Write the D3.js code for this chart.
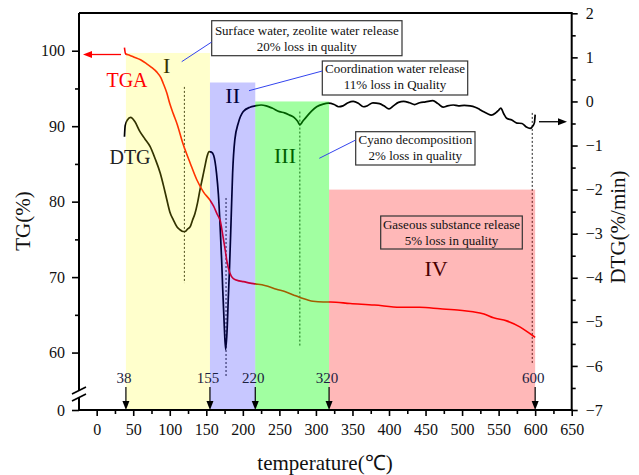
<!DOCTYPE html>
<html><head><meta charset="utf-8">
<script src="https://cdn.jsdelivr.net/npm/d3@7"></script>
<style>
body{margin:0;background:#fff}
svg{display:block}
text{font-family:"Liberation Serif","Times New Roman",serif}
</style>
</head><body>
<svg id="c" width="639" height="475"></svg>
<script>
// ---------------- DATA ----------------
const tgaTemp  = [38, 39.5, 45, 50, 60, 68, 75, 82, 88, 91, 96, 100, 105, 110, 118, 128, 137, 146, 155, 160, 165, 169, 173, 176, 178, 182, 187, 195, 201, 210, 217, 230, 246, 260, 270, 278, 288, 296, 310, 320, 347, 380, 415, 442, 470, 497, 515, 530, 543, 561, 579, 590, 600];
const tgaValue = [100.4, 99.6, 99.4, 99.2, 98.8, 98.3, 97.8, 97.2, 96.4, 95.7, 94.4, 93.0, 91.6, 90.3, 87.7, 85.1, 82.9, 81.3, 80.2, 79.4, 78.3, 77.5, 75.3, 73.5, 72.2, 70.6, 69.8, 69.5, 69.4, 69.2, 69.1, 68.9, 68.4, 68.0, 67.6, 67.3, 67.0, 66.8, 66.7, 66.7, 66.5, 66.3, 66.0, 66.0, 65.8, 65.6, 65.4, 65.1, 64.6, 64.2, 63.4, 62.7, 62.0];

const dtgTemp  = [38, 39, 42, 46.5, 52, 59, 66, 73, 80, 87, 92, 96, 100, 105, 110, 114, 118, 121, 124, 128, 131, 134.5, 138, 141.4, 145, 148, 151, 154, 157, 160, 164, 166.5, 168.7, 171, 172.5, 174.6, 176.5, 178.7, 180, 181.5, 183.8, 186, 189, 193.8, 200.6, 209.8, 217, 225, 232, 240, 250, 257, 264, 270, 275, 278, 282, 287, 294, 301, 310, 317, 325, 331, 337, 344, 351, 358, 365, 370, 378, 387, 393, 400, 406, 413, 420, 428, 435, 442, 450, 460, 467, 474, 480, 488, 495, 503, 511, 518, 524, 529, 535, 540, 546, 550, 553, 557, 561, 568, 575, 582, 588, 593, 597, 599, 600];
const dtgValue = [-0.80, -0.55, -0.42, -0.36, -0.45, -0.68, -0.85, -1.02, -1.30, -1.63, -1.95, -2.23, -2.50, -2.69, -2.85, -2.91, -2.95, -2.95, -2.90, -2.84, -2.70, -2.54, -2.30, -2.00, -1.72, -1.48, -1.25, -1.14, -1.15, -1.22, -1.63, -2.10, -2.76, -3.60, -4.27, -5.10, -5.63, -5.10, -4.50, -3.90, -2.76, -1.63, -0.87, -0.49, -0.23, -0.13, -0.10, -0.08, -0.10, -0.15, -0.23, -0.26, -0.31, -0.36, -0.45, -0.53, -0.45, -0.35, -0.22, -0.12, -0.06, -0.04, -0.07, -0.12, -0.10, -0.03, 0.00, -0.04, -0.12, -0.10, -0.03, -0.05, -0.10, -0.17, -0.10, -0.02, 0.00, -0.03, -0.07, -0.03, -0.01, 0.02, -0.05, -0.13, -0.10, -0.08, -0.10, -0.09, -0.10, -0.13, -0.18, -0.23, -0.28, -0.31, -0.26, -0.20, -0.15, -0.28, -0.38, -0.42, -0.49, -0.50, -0.58, -0.61, -0.55, -0.48, -0.30];

const stageBounds = [40, 155, 217, 318, 600];
const stageLabels = ["38", "155", "220", "320", "600"];
const stageNames  = ["I", "II", "III", "IV"];
const stageTops   = [1.1, 0.43, 0.0, -2.0];          // DTG units
const peakTemps   = [120, 177, 278, 596];
const peakTops    = [0.33, -2.19, -0.23, -0.26];     // DTG units
const peakBottoms = [-4.12, -6.24, -5.57, -5.97];

const xTicks      = d3.range(0, 651, 50);
const xMinorTicks = d3.range(25, 651, 50);
const tgTicks     = [0, 60, 70, 80, 90, 100];
const tgMinor     = [65, 75, 85, 95];
const dtgTicks    = d3.range(-7, 3, 1);
const dtgMinor    = d3.range(-6.5, 2, 1);

const noteLines = [
  ["Surface water, zeolite water release", "20% loss in quality"],
  ["Coordination water release", "11% loss in Quality"],
  ["Cyano decomposition", "2% loss in quality"],
  ["Gaseous substance release", "5% loss in quality"]
];

// ---------------- LAYOUT ----------------
const L = 79, R = 571.7, T = 13, B = 410;
const svg = d3.select("#c");
const x = d3.scaleLinear().domain([-24.2, 650]).range([L, R]);
const yTG = d3.scaleLinear().domain([0, 55, 105]).range([B, 390.3, T]);
const yD = d3.scaleLinear().domain([-7, 2]).range([B, 13.3]);

const bandColors = ["#FFFF00", "#0000FF", "#00FF00", "#FF0000"];
const bandOpac = [0.2, 0.22, 0.37, 0.28];

// guide lines (under bands)
const gl = svg.append("g");
peakTemps.forEach((t, i) => {
  gl.append("line").attr("x1", x(t)).attr("x2", x(t))
    .attr("y1", yD(peakTops[i])).attr("y2", yD(peakBottoms[i]))
    .attr("stroke", "#222").attr("stroke-width", 1).attr("stroke-dasharray", "2,2");
});

// curves
const tga = tgaTemp.map((t, i) => [t, tgaValue[i]]);
const dtg = dtgTemp.map((t, i) => [t, dtgValue[i]]);
svg.append("path").datum(dtg)
  .attr("d", d3.line().x(d => x(d[0])).y(d => yD(d[1])).curve(d3.curveMonotoneX))
  .attr("fill", "none").attr("stroke", "#000").attr("stroke-width", 1.7);
svg.append("path").datum(tga)
  .attr("d", d3.line().x(d => x(d[0])).y(d => yTG(d[1])).curve(d3.curveMonotoneX))
  .attr("fill", "none").attr("stroke", "#FF0000").attr("stroke-width", 1.6);

// Roman numerals (under bands)
const numPos = [[166.7, 72.5], [232.7, 103], [285, 163], [436, 276]];
stageNames.forEach((n, i) => {
  svg.append("text").attr("x", numPos[i][0]).attr("y", numPos[i][1])
    .attr("text-anchor", "middle").attr("font-size", 22).attr("fill", "#000").text(n);
});

// bands on top, translucent
stageNames.forEach((n, i) => {
  svg.append("rect")
    .attr("x", x(stageBounds[i])).attr("width", x(stageBounds[i + 1]) - x(stageBounds[i]))
    .attr("y", yD(stageTops[i])).attr("height", B - yD(stageTops[i]))
    .attr("fill", bandColors[i]).attr("fill-opacity", bandOpac[i]);
});

// axes
const axStyle = g => {
  g.selectAll("path.domain").remove();
  g.selectAll("line").attr("stroke", "#000").attr("stroke-width", 1.6);
  g.selectAll("text").attr("font-size", 16).attr("fill", "#111")
    .attr("font-family", "'Liberation Serif','Times New Roman',serif");
};
svg.append("g").attr("transform", `translate(0,${B})`)
  .call(d3.axisBottom(x).tickValues(xTicks).tickSize(6).tickPadding(8).tickFormat(d3.format("d"))).call(axStyle);
svg.append("g").attr("transform", `translate(0,${B})`)
  .call(d3.axisBottom(x).tickValues(xMinorTicks).tickSize(4).tickFormat("")).call(axStyle);
svg.append("g").attr("transform", `translate(${L},0)`)
  .call(d3.axisLeft(yTG).tickValues(tgTicks).tickSize(7).tickPadding(7).tickFormat(d3.format("d"))).call(axStyle);
svg.append("g").attr("transform", `translate(${L},0)`)
  .call(d3.axisLeft(yTG).tickValues(tgMinor).tickSize(4).tickFormat("")).call(axStyle);
svg.append("g").attr("transform", `translate(${R},0)`)
  .call(d3.axisRight(yD).tickValues(dtgTicks).tickSize(6).tickPadding(8).tickFormat(d3.format("d"))).call(axStyle);
svg.append("g").attr("transform", `translate(${R},0)`)
  .call(d3.axisRight(yD).tickValues(dtgMinor).tickSize(4).tickFormat("")).call(axStyle);

// frame lines
const fr = svg.append("g").attr("stroke", "#000").attr("stroke-width", 2).attr("fill", "none");
fr.append("line").attr("x1", L - 1).attr("x2", R + 1).attr("y1", B).attr("y2", B);
fr.append("line").attr("x1", L).attr("x2", R + 1).attr("y1", T).attr("y2", T);
fr.append("line").attr("x1", R).attr("x2", R).attr("y1", T).attr("y2", B);
fr.append("line").attr("x1", L).attr("x2", L).attr("y1", T).attr("y2", 390);
fr.append("line").attr("x1", L).attr("x2", L).attr("y1", 397).attr("y2", B);
// break marks
const bk = svg.append("g").attr("stroke", "#000").attr("stroke-width", 1.6);
bk.append("line").attr("x1", 72).attr("y1", 394).attr("x2", 86).attr("y2", 387);
bk.append("line").attr("x1", 72).attr("y1", 401).attr("x2", 86).attr("y2", 394);

// stage boundary arrows
stageBounds.forEach((t, i) => {
  const px = x(t);
  svg.append("line").attr("x1", px).attr("x2", px).attr("y1", 387).attr("y2", 402)
    .attr("stroke", "#000").attr("stroke-width", 1.2);
  svg.append("path").attr("d", `M${px - 3.5},401 L${px + 3.5},401 L${px},${B} Z`).attr("fill", "#000");
  svg.append("text").attr("x", px - 2).attr("y", 383).attr("text-anchor", "middle")
    .attr("font-size", 15).attr("fill", "#1c2140").text(stageLabels[i]);
});

// annotation boxes
const boxes = [
  {x0: 211.7, x1: 402, y0: 20.7, y1: 55.7, b: [35, 51]},
  {x0: 322.3, x1: 467.7, y0: 61, y1: 95, b: [73, 89]},
  {x0: 355.7, x1: 475, y0: 131.7, y1: 165, b: [144, 160]},
  {x0: 380.7, x1: 522.3, y0: 216, y1: 249, b: [228.5, 244.5]}
];
boxes.forEach((bx, i) => {
  svg.append("rect").attr("x", bx.x0).attr("y", bx.y0).attr("width", bx.x1 - bx.x0).attr("height", bx.y1 - bx.y0)
    .attr("fill", "none").attr("stroke", "#333").attr("stroke-width", 1.2);
  noteLines[i].forEach((ln, j) => {
    svg.append("text").attr("x", (bx.x0 + bx.x1) / 2).attr("y", bx.b[j]).attr("text-anchor", "middle")
      .attr("font-size", 13).attr("fill", "#111").text(ln);
  });
});
const conns = [[211.7, 42, 181.7, 61.7], [322.3, 71, 249, 90.7], [355.7, 140, 319.3, 158.3]];
conns.forEach(c => svg.append("line").attr("x1", c[0]).attr("y1", c[1]).attr("x2", c[2]).attr("y2", c[3])
  .attr("stroke", "#3344ee").attr("stroke-width", 1));

// series labels and legend arrows
svg.append("text").attr("x", 127).attr("y", 87).attr("text-anchor", "middle").attr("font-size", 20)
  .attr("fill", "#FF0000").text("TGA");
svg.append("text").attr("x", 130).attr("y", 164).attr("text-anchor", "middle").attr("font-size", 20)
  .attr("fill", "#222").text("DTG");
const ya = yTG(99.5);
svg.append("line").attr("x1", 121).attr("x2", 90).attr("y1", ya).attr("y2", ya).attr("stroke", "#FF0000").attr("stroke-width", 1.3);
svg.append("path").attr("d", `M83,${ya} L92,${ya - 3.5} L92,${ya + 3.5} Z`).attr("fill", "#FF0000");
const yb = yD(-0.46);
svg.append("line").attr("x1", 539).attr("x2", 560).attr("y1", yb).attr("y2", yb).attr("stroke", "#000").attr("stroke-width", 1.3);
svg.append("path").attr("d", `M567,${yb} L558,${yb - 3.5} L558,${yb + 3.5} Z`).attr("fill", "#000");

// axis titles
svg.append("text").attr("transform", "translate(30,221) rotate(-90)").attr("text-anchor", "middle")
  .attr("font-size", 21).attr("fill", "#111").text("TG(%)");
svg.append("text").attr("transform", "translate(625,227) rotate(-90)").attr("text-anchor", "middle")
  .attr("font-size", 21).attr("fill", "#111").text("DTG(%/min)");
svg.append("text").attr("x", 325).attr("y", 470).attr("text-anchor", "middle")
  .attr("font-size", 21).attr("fill", "#111").text("temperature(℃)");
</script>
</body></html>
